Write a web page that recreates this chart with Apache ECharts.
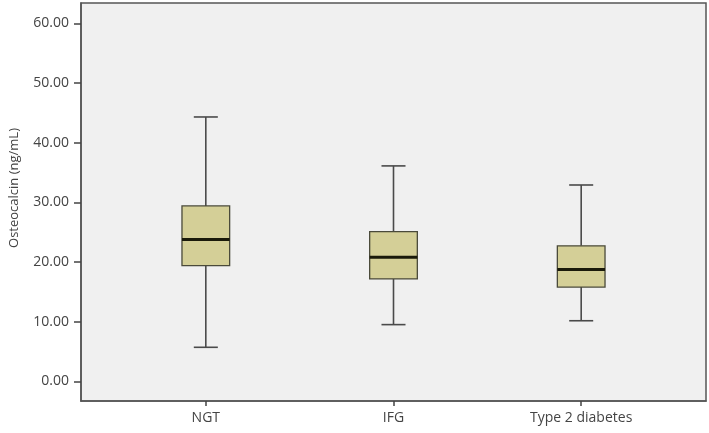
<!DOCTYPE html>
<html>
<head>
<meta charset="utf-8">
<script src="https://cdn.jsdelivr.net/npm/echarts@6/dist/echarts.min.js"></script>
<style>
  html, body { margin: 0; padding: 0; background: #fff; }
  #chart { width: 709px; height: 433px; }
</style>
</head>
<body>
<div id="chart"></div>
<script>
// groups along the x axis
const categories = ["NGT", "IFG", "Type 2 diabetes"];
// five-number summaries
const lowWhisker = [5.7, 9.5, 10.15];
const q1 = [19.4, 17.15, 15.8];
const median = [23.75, 20.8, 18.75];
const q3 = [29.4, 25.1, 22.7];
const highWhisker = [44.3, 36.1, 32.9];
const yTicks = [0, 10, 20, 30, 40, 50, 60];

const boxData = categories.map((c, i) => [i, lowWhisker[i], q1[i], median[i], q3[i], highWhisker[i]]);

const chart = echarts.init(document.getElementById("chart"));

// box half width and whisker cap half width, in x data units
const boxHalf = 0.127;
const capHalf = 0.064;

function renderBox(params, api) {
  const x = api.value(0);
  const lo = api.coord([x, api.value(1)]);
  const b1 = api.coord([x, api.value(2)]);
  const md = api.coord([x, api.value(3)]);
  const b3 = api.coord([x, api.value(4)]);
  const hi = api.coord([x, api.value(5)]);
  const bl = api.coord([x - boxHalf, 0])[0];
  const br = api.coord([x + boxHalf, 0])[0];
  const cl = api.coord([x - capHalf, 0])[0];
  const cr = api.coord([x + capHalf, 0])[0];
  const cx = lo[0];
  const lineStyle = { stroke: "#4a4a4a", lineWidth: 1.6 };
  return {
    type: "group",
    children: [
      { type: "line", shape: { x1: cx, y1: hi[1], x2: cx, y2: b3[1] }, style: lineStyle },
      { type: "line", shape: { x1: cx, y1: b1[1], x2: cx, y2: lo[1] }, style: lineStyle },
      { type: "line", shape: { x1: cl, y1: hi[1], x2: cr, y2: hi[1] }, style: lineStyle },
      { type: "line", shape: { x1: cl, y1: lo[1], x2: cr, y2: lo[1] }, style: lineStyle },
      {
        type: "rect",
        shape: { x: bl, y: b3[1], width: br - bl, height: b1[1] - b3[1] },
        style: { fill: "#d4cf97", stroke: "#4a4a3a", lineWidth: 1.3 }
      },
      { type: "line", shape: { x1: bl, y1: md[1], x2: br, y2: md[1] }, style: { stroke: "#1a1a0a", lineWidth: 3 } }
    ]
  };
}

chart.setOption({
  animation: false,
  grid: {
    left: 76,
    right: 3,
    top: 3,
    bottom: 32,
    show: true,
    backgroundColor: "#f0f0f0",
    borderColor: "#555",
    borderWidth: 1.5
  },
  xAxis: {
    type: "value",
    min: -0.665,
    max: 2.665,
    axisLine: { show: true, onZero: false, lineStyle: { color: "#555", width: 1.5 } },
    splitLine: { show: false },
    axisTick: { show: true, length: 5, customValues: [0, 1, 2], lineStyle: { color: "#444", width: 1.5 } },
    axisLabel: {
      customValues: [0, 1, 2],
      formatter: v => categories[Math.round(v)],
      color: "#444",
      fontFamily: "Open Sans",
      fontSize: 14,
      margin: 10
    }
  },
  yAxis: {
    type: "value",
    min: -3.3,
    max: 63.4,
    name: "Osteocalcin (ng/mL)",
    nameLocation: "middle",
    nameGap: 60,
    nameTextStyle: { color: "#444", fontFamily: "Open Sans", fontSize: 13, padding: [0, 0, 0, 28] },
    axisLine: { show: true, onZero: false, lineStyle: { color: "#555", width: 1.5 } },
    splitLine: { show: false },
    axisTick: { show: true, length: 7, customValues: yTicks, lineStyle: { color: "#444", width: 1.5 } },
    axisLabel: {
      customValues: yTicks,
      formatter: v => v.toFixed(2),
      color: "#444",
      fontFamily: "Open Sans",
      fontSize: 14,
      margin: 12
    }
  },
  series: [
    {
      type: "custom",
      renderItem: renderBox,
      encode: { x: 0, y: [1, 2, 3, 4, 5] },
      data: boxData
    }
  ]
});
</script>
</body>
</html>
